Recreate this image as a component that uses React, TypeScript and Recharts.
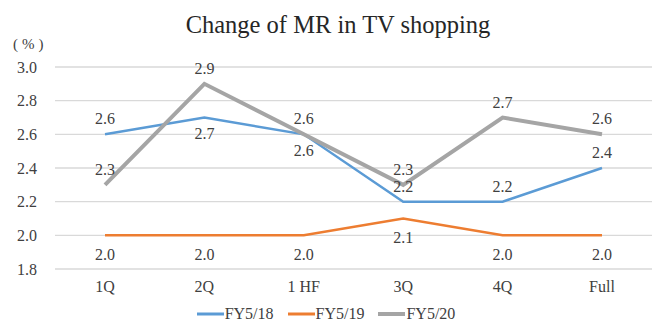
import React from "react";
import { LineChart, Line, XAxis, YAxis, CartesianGrid, Legend, LabelList } from "recharts";

const categories = ["1Q", "2Q", "1 HF", "3Q", "4Q", "Full"];
const fy18 = [2.6, 2.7, 2.6, 2.2, 2.2, 2.4];
const fy19 = [2.0, 2.0, 2.0, 2.1, 2.0, 2.0];
const fy20 = [2.3, 2.9, 2.6, 2.3, 2.7, 2.6];
const yTicks = [1.8, 2.0, 2.2, 2.4, 2.6, 2.8, 3.0];

// label placement per point (above / below)
const fy18Place = ["top", "bottom", "bottom", "top", "top", "top"];
const fy19Place = ["bottom", "bottom", "bottom", "bottom", "bottom", "bottom"];
const fy20Place = ["top", "top", "top", "top", "top", "top"];

const data = categories.map((c, i) => ({
  name: c,
  fy18: fy18[i],
  fy19: fy19[i],
  fy20: fy20[i],
}));

const FONT = '"Liberation Serif", "Times New Roman", serif';
const TEXT = "#404040";

const makeLabel = (places: string[], gap: number) => (props: any) => {
  const { x, y, value, index } = props;
  const above = places[index] === "top";
  return (
    <text
      x={x}
      y={above ? y - gap : y + gap}
      textAnchor="middle"
      dominantBaseline={above ? "auto" : "hanging"}
      fontFamily={FONT}
      fontSize={16}
      fill={TEXT}
    >
      {Number(value).toFixed(1)}
    </text>
  );
};

const LegendContent = (props: any) => {
  const { payload } = props;
  return (
    <div style={{ display: "flex", justifyContent: "center", fontFamily: FONT, fontSize: 16, color: TEXT }}>
      {payload.map((p: any) => (
        <div key={p.value} style={{ display: "flex", alignItems: "center", margin: "0 7px" }}>
          <svg width={27} height={10}>
            <line x1={0} y1={5} x2={27} y2={5} stroke={p.color} strokeWidth={p.value === "FY5/20" ? 4 : 3} />
          </svg>
          <span style={{ marginLeft: 1 }}>{p.value}</span>
        </div>
      ))}
    </div>
  );
};

export default function App() {
  return (
    <div style={{ position: "absolute", left: 0, top: 0, width: 664, height: 335, background: "#fff" }}>
      <div
        style={{
          position: "absolute",
          left: 0,
          width: 676,
          top: 11,
          textAlign: "center",
          fontFamily: FONT,
          fontSize: 24.5,
          color: "#262626",
        }}
      >
        Change of MR in TV shopping
      </div>
      <div
        style={{
          position: "absolute",
          left: 13,
          top: 36,
          fontFamily: FONT,
          fontSize: 15,
          color: TEXT,
          letterSpacing: 4,
        }}
      >
        (%)
      </div>
      <LineChart width={664} height={335} data={data} margin={{ top: 67, right: 12, bottom: 0, left: 0 }}>
        <CartesianGrid vertical={false} stroke="#D9D9D9" strokeWidth={1.3} />
        <XAxis
          dataKey="name"
          axisLine={false}
          tickLine={false}
          height={36}
          tickMargin={6}
          padding={{ left: 50, right: 50 }}
          tick={{ fontFamily: FONT, fontSize: 16, fill: TEXT }}
        />
        <YAxis
          domain={[1.8, 3.0]}
          ticks={yTicks}
          width={55}
          axisLine={false}
          tickLine={false}
          tickMargin={12}
          tickFormatter={(v: number) => v.toFixed(1)}
          tick={{ fontFamily: FONT, fontSize: 16, fill: TEXT }}
        />
        <Legend verticalAlign="bottom" height={30} content={<LegendContent />} />
        <Line
          type="linear"
          dataKey="fy18"
          name="FY5/18"
          stroke="#5B9BD5"
          strokeWidth={2.5}
          dot={false}
          isAnimationActive={false}
        >
          <LabelList dataKey="fy18" content={makeLabel(fy18Place, 10)} />
        </Line>
        <Line
          type="linear"
          dataKey="fy19"
          name="FY5/19"
          stroke="#ED7D31"
          strokeWidth={2.5}
          dot={false}
          isAnimationActive={false}
        >
          <LabelList dataKey="fy19" content={makeLabel(fy19Place, 13)} />
        </Line>
        <Line
          type="linear"
          dataKey="fy20"
          name="FY5/20"
          stroke="#A5A5A5"
          strokeWidth={4}
          dot={false}
          isAnimationActive={false}
        >
          <LabelList dataKey="fy20" content={makeLabel(fy20Place, 10)} />
        </Line>
      </LineChart>
    </div>
  );
}
